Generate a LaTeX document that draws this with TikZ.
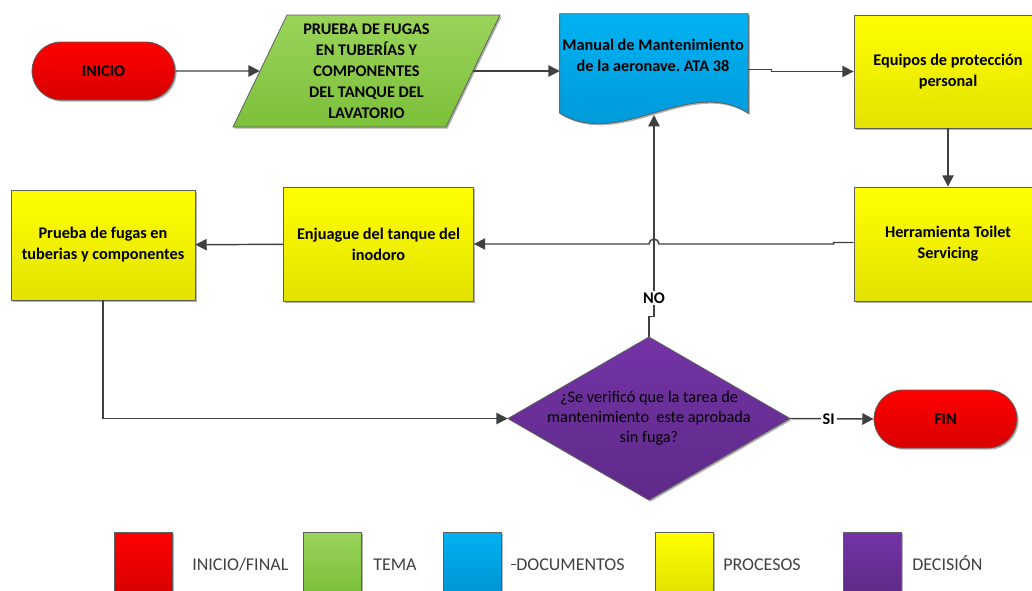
\documentclass[tikz,border=0pt]{standalone}
\usepackage{fontspec}
\setmainfont{Carlito}
\frenchspacing
\usetikzlibrary{arrows.meta,shapes.misc,shadows,calc}
\definecolor{red1}{HTML}{FF0000}
\definecolor{red2}{HTML}{D80000}
\definecolor{grn1}{HTML}{9AD45A}
\definecolor{grn2}{HTML}{7CC03A}
\definecolor{blu1}{HTML}{00B2F2}
\definecolor{blu2}{HTML}{0094D4}
\definecolor{yel1}{HTML}{FFFF00}
\definecolor{yel2}{HTML}{E2E200}
\definecolor{pur1}{HTML}{7433A6}
\definecolor{pur2}{HTML}{5E2A88}
\definecolor{bordc}{HTML}{5F5F5F}
\definecolor{linec}{HTML}{404040}
\definecolor{legc}{HTML}{404040}
\begin{document}
\begin{tikzpicture}[x=0.75pt,y=-0.75pt,
  shad/.style={drop shadow={shadow xshift=1.2pt,shadow yshift=-1.2pt,opacity=0.3,fill=black}},
  txt/.style={font=\bfseries\fontsize{12.2}{15.75}\selectfont, align=center, inner sep=0pt},
  txtn/.style={font=\fontsize{12.2}{15}\selectfont, align=center, inner sep=0pt},
  box/.style={txt, draw=bordc, line width=0.6pt, shad},
  proc/.style={box, rectangle, top color=yel1, bottom color=yel2},
  term/.style={box, rounded rectangle, top color=red1, bottom color=red2, minimum width=107.25pt, minimum height=43.5pt},
  outl/.style={draw=bordc, line width=0.6pt, shad},
  conn/.style={draw=linec, line width=1.1pt, -{Triangle[length=8.5pt,width=8.5pt]}},
  lbl/.style={font=\bfseries\fontsize{12.2}{14}\selectfont, fill=white, inner sep=1.5pt},
  legbox/.style={draw=bordc, line width=0.6pt, shad, minimum width=43.5pt, minimum height=45pt, inner sep=0pt},
  legtxt/.style={font=\fontsize{13.5}{16}\selectfont, text=legc, anchor=base west, inner sep=0pt}]
\useasboundingbox (0,0) rectangle (1032,590);
\clip (0,0) rectangle (1032,590);

% terminals
\node[term] (ini) at (103.5,71) {INICIO};
\node[term] (fin) at (945.5,419) {FIN};

% tema (parallelogram)
\path[outl, top color=grn1, bottom color=grn2] (287,15) -- (500,15) -- (446,127) -- (233,127) -- cycle;
\node[txt, minimum width=159.75pt, minimum height=84pt] (tema) at (366.5,71)
  {PRUEBA DE FUGAS\\EN TUBERÍAS Y\\COMPONENTES\\DEL TANQUE DEL\\LAVATORIO};

% document
\node[minimum width=141pt, minimum height=74.25pt, inner sep=0pt] (man) at (654,63.5) {};
\path[outl, top color=blu1, bottom color=blu2] (man.north west) -- (man.north east) -- (man.south east)
  .. controls (690,75) and (620,150) .. (man.south west) -- cycle;
\node[txt] (mantxt) at (653,55) {Manual de Mantenimiento\\de la aeronave. ATA 38};
\coordinate (wavept) at (654,115);

% processes
\node[proc, minimum width=141pt, minimum height=84.75pt] (equ) at (948,71.5) {Equipos de protección\\personal};
\node[proc, minimum width=141pt, minimum height=85.5pt] (her) at (948,244) {Herramienta Toilet\\Servicing};
\node[proc, minimum width=142.5pt, minimum height=85.5pt] (enj) at (378.5,244) {Enjuague del tanque del\\inodoro};
\node[proc, minimum width=138pt, minimum height=82.5pt] (pru) at (103,245) {Prueba de fugas en\\tuberias y componentes};

% decision
\path[outl, top color=pur1, bottom color=pur2] (649,337) -- (790,418.5) -- (649,500) -- (508,418.5) -- cycle;
\node[txtn, minimum width=211.5pt, minimum height=122.25pt] (dec) at (649,418.5)
  {¿Se verificó que la tarea de\\mantenimiento\ \ este aprobada\\sin fuga?};

% connectors
\draw[conn] (ini) -- (tema);
\draw[conn] (tema.east) -- (tema.east -| man.west);
\draw[conn] ($(man.east |- equ.west)+(0,-2)$) -- ++(23,0) -- ++(0,2) -- (equ.west);
\draw[conn] (equ) -- (her);
\draw[conn] ($(her.west)+(0,-1.5)$) -- ++(-20,0) -- ++(0,1.5) -- ($(wavept |- her.west)+(5,0)$)
  arc[start angle=0, end angle=180, radius=3.75pt] -- (enj.east);
\draw[conn] (enj) -- (pru);
\draw[conn] (pru.south) |- (dec.west);
\draw[conn] (dec.north) -- ++(0,-20) -- ++(5,0) -- (wavept);
\node[lbl] (no) at (654,298) {NO};
\draw[conn] (dec.east) -- node[lbl, pos=0.46] (si) {SI} (fin.west);

% legend
\node[legbox, top color=red1, bottom color=red2] (l1) at (143,562) {};
\node[legbox, top color=grn1, bottom color=grn2] (l2) at (332,562) {};
\node[legbox, top color=blu1, bottom color=blu2] (l3) at (472,562) {};
\node[legbox, top color=yel1, bottom color=yel2] (l4) at (684,562) {};
\node[legbox, top color=pur1, bottom color=pur2] (l5) at (872,562) {};
\node[legtxt] (t1) at (192,570) {INICIO/FINAL};
\node[legtxt] (t2) at (373,570) {TEMA};
\node[legtxt] (t3) at (516,570) {DOCUMENTOS};
\node[legtxt] (t4) at (723,570) {PROCESOS};
\node[legtxt] (t5) at (912,570) {DECISIÓN};
\draw[legc, line width=0.7pt] (t3.west) -- ++(-5,0);
\end{tikzpicture}
\end{document}
